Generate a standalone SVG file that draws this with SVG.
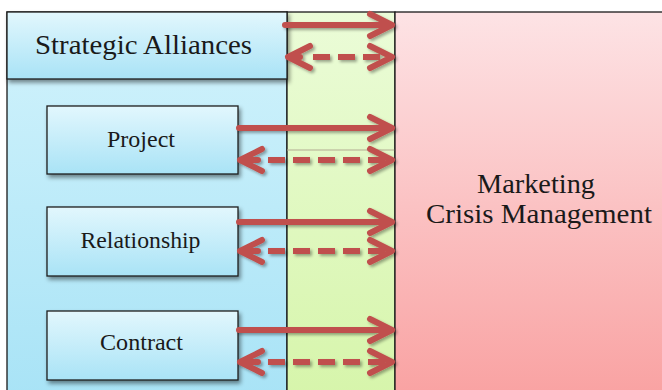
<svg xmlns="http://www.w3.org/2000/svg" width="662" height="390" viewBox="0 0 662 390">
  <defs>
    <linearGradient id="gBlueCol" x1="0" y1="0" x2="0" y2="1">
      <stop offset="0" stop-color="#d2f3fc"/>
      <stop offset="1" stop-color="#a8e3f6"/>
    </linearGradient>
    <linearGradient id="gBox" x1="0" y1="0" x2="0" y2="1">
      <stop offset="0" stop-color="#e2f7fd"/>
      <stop offset="1" stop-color="#a9e3f6"/>
    </linearGradient>
    <linearGradient id="gGreen" x1="0" y1="0" x2="0" y2="1">
      <stop offset="0" stop-color="#ebfcd8"/>
      <stop offset="1" stop-color="#d6f5aa"/>
    </linearGradient>
    <linearGradient id="gPink" x1="0" y1="0" x2="0" y2="1">
      <stop offset="0" stop-color="#fde3e5"/>
      <stop offset="1" stop-color="#f9a1a1"/>
    </linearGradient>
    <filter id="boxShadow" x="-10%" y="-10%" width="125%" height="140%">
      <feDropShadow dx="2" dy="3" stdDeviation="2" flood-color="#000" flood-opacity="0.45"/>
    </filter>
    <filter id="arrowShadow" x="-10%" y="-50%" width="125%" height="200%">
      <feDropShadow dx="2" dy="2" stdDeviation="1.5" flood-color="#000" flood-opacity="0.35"/>
    </filter>
  </defs>
  <style>
    .frame { stroke: #1a1a1a; stroke-width: 1.3; }
    .box { fill: url(#gBox); stroke: #1e1e1e; stroke-width: 1.3; filter: url(#boxShadow); }
    text { font-family: "Liberation Serif", "Times New Roman", serif; fill: #1a1a1a; text-anchor: middle; }
    .big { font-size: 28px; }
    .small { font-size: 23px; }
    .arrow { fill: none; stroke: #c0504d; stroke-width: 6; stroke-linecap: round; stroke-linejoin: round; }
    .dash { fill: none; stroke: #c0504d; stroke-width: 6; stroke-linecap: butt; stroke-dasharray: 17 8; }
  </style>

  <rect x="0" y="0" width="662" height="390" fill="#ffffff"/>

  <!-- left column: alliance types -->
  <g id="alliance-column">
    <rect x="7" y="12" width="280" height="390" fill="url(#gBlueCol)" class="frame"/>
  </g>

  <!-- middle column -->
  <g id="bridge-column">
    <rect x="287" y="12" width="108" height="390" fill="url(#gGreen)" class="frame"/>
    <line x1="287" y1="150" x2="395" y2="150" stroke="#b3ab92" stroke-width="1"/>
  </g>

  <!-- right column -->
  <g id="marketing-crisis-management">
    <rect x="395" y="12" width="280" height="390" fill="url(#gPink)" class="frame"/>
    <text class="big" x="536" y="193" textLength="118" lengthAdjust="spacingAndGlyphs">Marketing</text>
    <text class="big" x="539" y="223" textLength="226" lengthAdjust="spacingAndGlyphs">Crisis Management</text>
  </g>

  <g id="strategic-alliances">
    <rect x="7" y="12" width="280" height="67" fill="url(#gBox)" stroke="#1e1e1e" stroke-width="1.3" filter="url(#boxShadow)"/>
    <text class="big" x="143.5" y="53.5" textLength="217" lengthAdjust="spacingAndGlyphs">Strategic Alliances</text>
  </g>

  <g id="project">
    <rect class="box" x="47" y="106" width="191" height="68"/>
    <text class="small" x="141" y="146.5" textLength="68" lengthAdjust="spacingAndGlyphs">Project</text>
  </g>

  <g id="relationship">
    <rect class="box" x="47" y="207" width="191" height="69"/>
    <text class="small" x="140.5" y="247.5" textLength="120" lengthAdjust="spacingAndGlyphs">Relationship</text>
  </g>

  <g id="contract">
    <rect class="box" x="47" y="311" width="191" height="69"/>
    <text class="small" x="141.5" y="350" textLength="83" lengthAdjust="spacingAndGlyphs">Contract</text>
  </g>

  <!-- connectors: solid one-way and dashed two-way arrows -->
  <g id="connectors" filter="url(#arrowShadow)">
    <!-- strategic alliances -->
    <path class="arrow" d="M285 25 H392 M370 14 L392 25 L370 36"/>
    <path class="arrow" d="M310 46 L288 57 L310 68 M288 57 H300 M370 46 L392 57 L370 68"/>
    <path class="dash" d="M313 57 H392"/>

    <!-- project -->
    <path class="arrow" d="M239 128 H392 M370 117 L392 128 L370 139"/>
    <path class="arrow" d="M262 149 L240 160 L262 171 M240 160 H258 M370 149 L392 160 L370 171"/>
    <path class="dash" d="M268 160 H392"/>

    <!-- relationship -->
    <path class="arrow" d="M239 222 H392 M370 211 L392 222 L370 233"/>
    <path class="arrow" d="M262 240 L240 251 L262 262 M240 251 H258 M370 240 L392 251 L370 262"/>
    <path class="dash" d="M268 251 H392"/>

    <!-- contract -->
    <path class="arrow" d="M239 330 H392 M370 319 L392 330 L370 341"/>
    <path class="arrow" d="M262 351 L240 362 L262 373 M240 362 H258 M370 351 L392 362 L370 373"/>
    <path class="dash" d="M268 362 H392"/>
  </g>
</svg>
